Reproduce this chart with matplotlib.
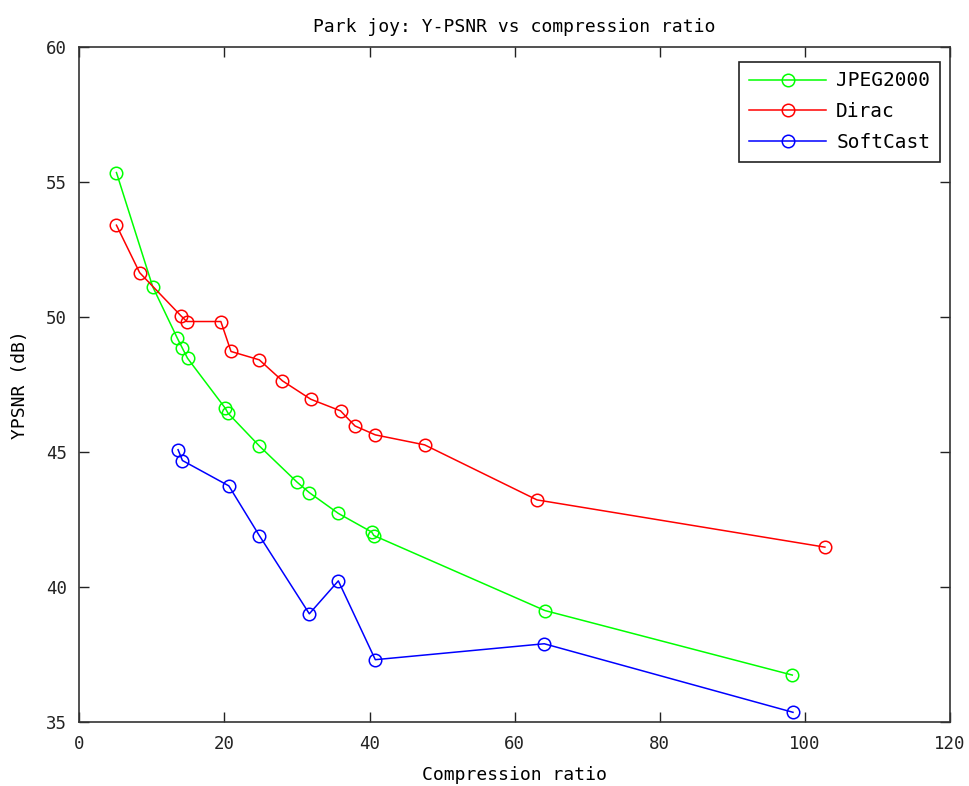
import matplotlib
matplotlib.use("Agg")
import matplotlib.pyplot as plt

# --- Data ---
jpeg_x = [5.1, 10.1, 13.5, 14.2, 14.9, 20.1, 20.5, 24.8, 30.0, 31.7, 35.7, 40.3, 40.6, 64.2, 98.3]
jpeg_y = [55.36, 51.13, 49.22, 48.85, 48.48, 46.63, 46.44, 45.23, 43.89, 43.50, 42.73, 42.04, 41.91, 39.13, 36.74]

dirac_x = [5.1, 8.3, 14.0, 14.8, 19.5, 20.9, 24.8, 28.0, 31.9, 36.0, 38.0, 40.8, 47.6, 63.1, 102.8]
dirac_y = [53.41, 51.65, 50.05, 49.84, 49.84, 48.73, 48.42, 47.64, 46.96, 46.53, 45.97, 45.64, 45.27, 43.23, 41.48]

soft_x = [13.6, 14.2, 20.6, 24.8, 31.7, 35.7, 40.8, 64.1, 98.4]
soft_y = [45.09, 44.69, 43.75, 41.91, 39.01, 40.23, 37.31, 37.90, 35.36]

labels = ["JPEG2000", "Dirac", "SoftCast"]
x_ticks = [0, 20, 40, 60, 80, 100, 120]
y_ticks = [35, 40, 45, 50, 55, 60]

plt.rcParams['font.family'] = ['DejaVu Sans Mono']

fig = plt.figure(figsize=(9.69, 7.86), dpi=100)
ax = fig.add_axes([0.082, 0.0814, 0.898, 0.8584])

style = dict(marker='o', markerfacecolor='none', markersize=9, linewidth=1.1, markeredgewidth=1.1)
ax.plot(jpeg_x, jpeg_y, color=(0, 1, 0), label=labels[0], **style)
ax.plot(dirac_x, dirac_y, color=(1, 0, 0), label=labels[1], **style)
ax.plot(soft_x, soft_y, color=(0, 0, 1), label=labels[2], **style)

ax.set_xlim(0, 120)
ax.set_ylim(35, 60)
ax.set_xticks(x_ticks)
ax.set_yticks(y_ticks)
ax.tick_params(direction='in', top=True, right=True, length=7, width=1, labelsize=12.5,
               colors='#222222', pad=9)
for s in ax.spines.values():
    s.set_color('#333333')
    s.set_linewidth(1.2)

ax.set_title("Park joy: Y-PSNR vs compression ratio", fontsize=13, pad=11)
ax.set_xlabel("Compression ratio", fontsize=13, labelpad=10)
ax.set_ylabel("YPSNR (dB)", fontsize=13, labelpad=12)

leg = ax.legend(loc='upper right', bbox_to_anchor=(1.0, 0.993), borderaxespad=0.5, fontsize=14,
                fancybox=False, framealpha=1, edgecolor='#222222', borderpad=0.5,
                handlelength=4.0, labelspacing=0.6, handletextpad=0.5)
leg.get_frame().set_linewidth(1.2)

fig.savefig("out.png", dpi=100)
